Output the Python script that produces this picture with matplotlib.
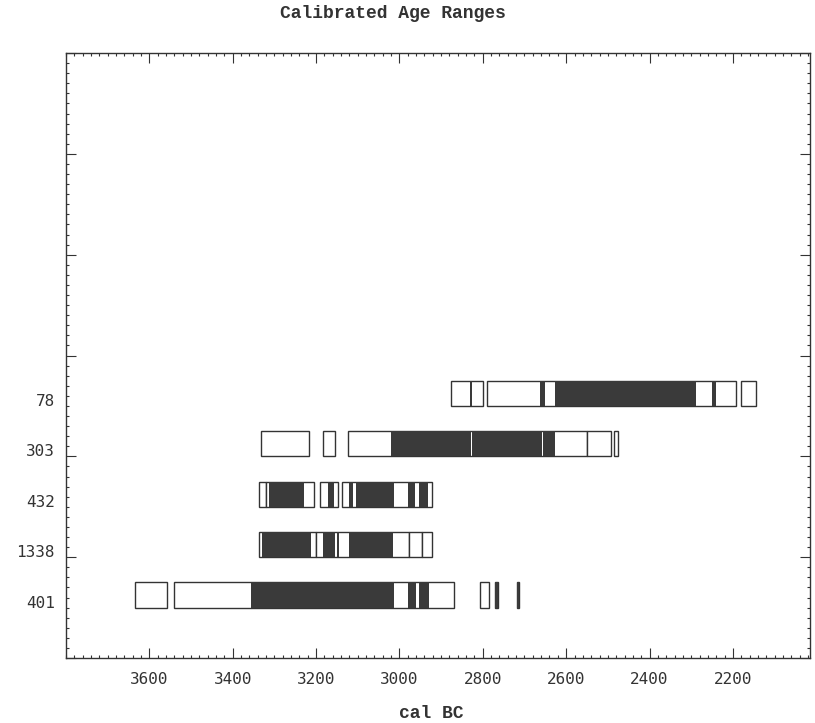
import matplotlib.pyplot as plt
from matplotlib.ticker import MultipleLocator, NullFormatter
from matplotlib.transforms import blended_transform_factory

# sample lab numbers, bottom row first
samples = ['401', '1338', '432', '303', '78']

# 2 sigma ranges (open boxes), cal BC, older end first
sig2_401 = [(3634, 3558), (3540, 2868), (2807, 2785), (2770, 2764), (2719, 2714)]
sig2_1338 = [(3338, 3201), (3201, 2976), (2976, 2945), (2945, 2921)]
sig2_432 = [(3338, 3321), (3321, 3205), (3190, 3148), (3137, 2921)]
sig2_303 = [(3331, 3217), (3184, 3155), (3123, 2550), (2550, 2493), (2485, 2475)]
sig2_78 = [(2877, 2800), (2790, 2193), (2181, 2145)]

# 1 sigma ranges (filled)
sig1_401 = [(3356, 3012), (2980, 2961), (2954, 2928), (2770, 2764), (2719, 2714)]
sig1_1338 = [(3330, 3212), (3184, 3155), (3151, 3146), (3122, 3016)]
sig1_432 = [(3313, 3228), (3172, 3156), (3120, 3112), (3104, 3012),
            (2980, 2962), (2952, 2932)]
sig1_303 = [(3020, 2829), (2826, 2659), (2656, 2627)]
sig1_78 = [(2831, 2825), (2663, 2651), (2627, 2289), (2251, 2241)]

sig2 = [sig2_401, sig2_1338, sig2_432, sig2_303, sig2_78]
sig1 = [sig1_401, sig1_1338, sig1_432, sig1_303, sig1_78]

x_ticks = [3600, 3400, 3200, 3000, 2800, 2600, 2400, 2200]

ink = '#333333'
dark = '#3a3a3a'

fig = plt.figure(figsize=(8.15, 7.23), dpi=100)
fig.patch.set_facecolor('white')
ax = fig.add_axes([66 / 815, 65 / 723, 744 / 815, 605 / 723])

for i, name in enumerate(samples):
    y = 0.5 * (i + 1)
    for a, b in sig2[i]:
        ax.barh(y, a - b, left=b, height=0.25, align='edge', color='white',
                edgecolor=ink, linewidth=1.0, zorder=2)
    for a, b in sig1[i]:
        ax.barh(y, a - b, left=b, height=0.25, align='edge', color=dark,
                linewidth=0, zorder=3)
    ax.text(-0.015, y, name, transform=blended_transform_factory(ax.transAxes, ax.transData),
            ha='right', va='baseline', fontsize=11.5, family='DejaVu Sans Mono', color=ink)

ax.set_xlim(3800, 2015)
ax.set_ylim(0, 6)
ax.set_xticks(x_ticks)
ax.set_xticklabels([str(v) for v in x_ticks], family='DejaVu Sans Mono', fontsize=11.5, color=ink)
ax.xaxis.set_minor_locator(MultipleLocator(20))
ax.yaxis.set_major_locator(MultipleLocator(1))
ax.yaxis.set_minor_locator(MultipleLocator(0.1))
ax.yaxis.set_major_formatter(NullFormatter())

ax.tick_params(which='both', direction='in', top=True, right=True, color=ink, width=0.8)
ax.tick_params(which='major', length=7.2)
ax.tick_params(which='minor', length=2.2)
ax.tick_params(axis='x', which='major', pad=10)
for s in ax.spines.values():
    s.set_color(ink)
    s.set_linewidth(1.0)

fig.text(393 / 815, 1 - 13 / 723, 'Calibrated Age Ranges', ha='center', va='center',
         family='Liberation Mono', weight='bold', fontsize=13, color=ink)
fig.text(431 / 815, 1 - 713 / 723, 'cal BC', ha='center', va='center',
         family='Liberation Mono', weight='bold', fontsize=13, color=ink)

fig.savefig('out.png', dpi=100)
